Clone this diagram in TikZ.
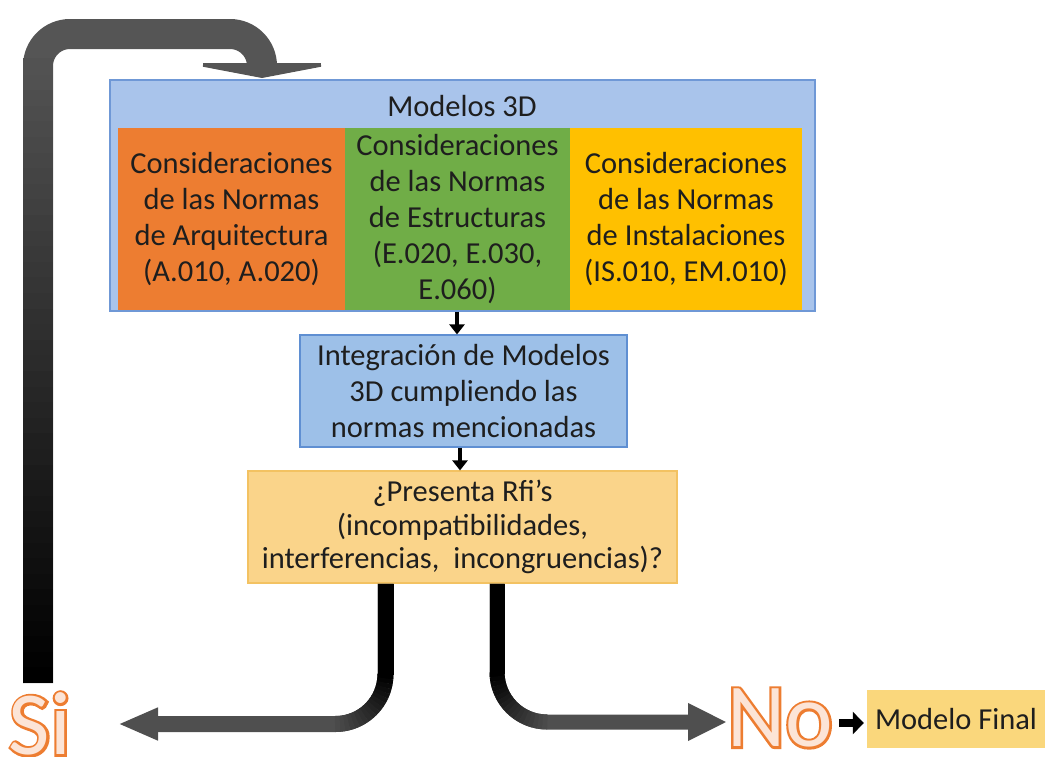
\documentclass[tikz,border=0pt]{standalone}
\usepackage{fontspec}
\setmainfont{Carlito}
\newfontfamily\sinofat[FakeBold=5.5]{Carlito}
\usetikzlibrary{arrows.meta,calc}
\definecolor{bluebg}{HTML}{A9C4EB}
\definecolor{blueedge}{HTML}{6F98D6}
\definecolor{orangebox}{HTML}{ED7D31}
\definecolor{greenbox}{HTML}{70AD47}
\definecolor{yellowbox}{HTML}{FFC000}
\definecolor{intblue}{HTML}{9DC0E8}
\definecolor{intedge}{HTML}{5F8FD2}
\definecolor{qfill}{HTML}{FAD48A}
\definecolor{qedge}{HTML}{F3C262}
\definecolor{finfill}{HTML}{FAD77C}
\definecolor{sino}{HTML}{ED7D31}
\definecolor{sinofill}{HTML}{FCE4D6}
\definecolor{txt}{HTML}{1E1E1E}
\definecolor{loopgray}{HTML}{555555}
\definecolor{armgray}{HTML}{4F4F4F}
\begin{document}
\begin{tikzpicture}[x=1pt,y=-1pt,
  every node/.style={text=txt},
  bodytext/.style={font=\fontsize{30.5}{36}\selectfont, align=center},
  colbox/.style={bodytext, minimum height=182pt, inner sep=0pt},
  flowbox/.style={bodytext, minimum height=112pt, line width=1.2pt, inner sep=0pt},
  smallarr/.style={line width=4pt, -{Triangle[length=10pt,width=15pt]}},
  bigword/.style={font=\fontsize{90}{90}\selectfont, inner sep=0pt},
  bigwordfat/.style={font=\sinofat\fontsize{90}{90}\selectfont, inner sep=0pt}
]
\useasboundingbox (0,0) rectangle (1048,756);

% ---- Modelos 3D container
\node[draw=blueedge, fill=bluebg, line width=1.2pt, minimum width=705pt, minimum height=231pt, inner sep=0pt] (m3d) at (462.5,195.5) {};
\node[bodytext] (title) at (462,106) {Modelos 3D};
\node[colbox, fill=orangebox, minimum width=227pt] (arq) at (231.5,219) {Consideraciones\\de las Normas\\de Arquitectura\\(A.010, A.020)};
\node[colbox, fill=greenbox, minimum width=225pt] (est) at (457.5,219) {Consideraciones\\de las Normas\\de Estructuras\\(E.020, E.030,\\E.060)};
\node[colbox, fill=yellowbox, minimum width=232pt] (ins) at (686,219) {Consideraciones\\de las Normas\\de Instalaciones\\(IS.010, EM.010)};

% ---- flow boxes
\node[flowbox, draw=intedge, fill=intblue, minimum width=327pt] (integ) at (463.5,391) {Integración de Modelos\\3D cumpliendo las\\normas mencionadas};
\node[flowbox, draw=qedge, fill=qfill, minimum width=429pt, font=\fontsize{30.5}{33.5}\selectfont] (q) at (462.5,527) {¿Presenta Rfi’s\\(incompatibilidades,\\interferencias,\ \ incongruencias)?};
\node[bodytext, fill=finfill, minimum width=178pt, minimum height=58pt, inner sep=0pt] (fin) at (956,719) {Modelo Final};

% ---- small arrows
\draw[smallarr] ($(m3d.south)+(-5.5,0)$) -- ($(integ.north)+(-6.5,0)$);
\draw[smallarr] ($(integ.south)+(-3.5,0)$) -- ($(q.north)+(-2.5,0)$);

% ---- Si / No outlined words
\node[bigwordfat, text=sino] at (40,724) {Si};
\node[bigwordfat, text=sino] at (780,718) {No};
\node[bigword, text=sinofill] (si) at (40,724) {Si};
\node[bigword, text=sinofill] (no) at (780,718) {No};

\draw[line width=8pt, -{Triangle[length=11pt,width=22pt]}] ($(no.east)+(6,5)$) -- ($(fin.west)+(-3,4)$);

% ---- coordinates for the thick connectors
\coordinate (ls) at ($(q.south)+(-77,0)$);
\coordinate (rs) at ($(q.south)+(34.5,0)$);
\coordinate (lend) at (118,724);
\coordinate (rend) at (727,722);
\coordinate (loopstart) at (38,683);
\coordinate (loopend) at (262,78);

% ---- left "Si" branch
\draw[line width=16pt, armgray, rounded corners=50pt, -{Triangle[length=40pt,width=30pt]}]
  (ls) -- (ls |- lend) -- (lend);
\fill[black] ($(ls)+(-8,0)$) rectangle ($(ls |- lend)+(8,-49)$);
\foreach \i in {0,...,17} {
  \pgfmathtruncatemacro\p{\i*100/18}
  \draw[line width=16pt, armgray!\p!black]
    ({335.5+50*cos(\i*5)},{674+50*sin(\i*5)}) -- ({335.5+50*cos(\i*5+5.5)},{674+50*sin(\i*5+5.5)});
}
% ---- right "No" branch
\draw[line width=15pt, armgray, rounded corners=50pt, -{Triangle[length=39pt,width=35pt]}]
  (rs) -- (rs |- rend) -- (rend);
\fill[black] ($(rs)+(-7.5,0)$) rectangle ($(rs |- rend)+(7.5,-48)$);
\foreach \i in {0,...,17} {
  \pgfmathtruncatemacro\p{\i*100/18}
  \draw[line width=15pt, armgray!\p!black]
    ({547-50*cos(\i*5)},{672+50*sin(\i*5)}) -- ({547-50*cos(\i*5+5.5)},{672+50*sin(\i*5+5.5)});
}

% ---- loop back to Modelos 3D
\draw[line width=30pt, loopgray, rounded corners=32pt, -{Triangle[length=15pt,width=157pt]}]
  (loopstart) -- (38,34) -- (262,34) -- (loopend);
\foreach \i in {0,...,39} {
  \pgfmathtruncatemacro\p{\i*100/40}
  \draw[line width=30pt, loopgray!\p!black]
    (38,{683-\i*15.6}) -- (38,{683-(\i+1)*15.6-0.6});
}
\end{tikzpicture}
\end{document}
